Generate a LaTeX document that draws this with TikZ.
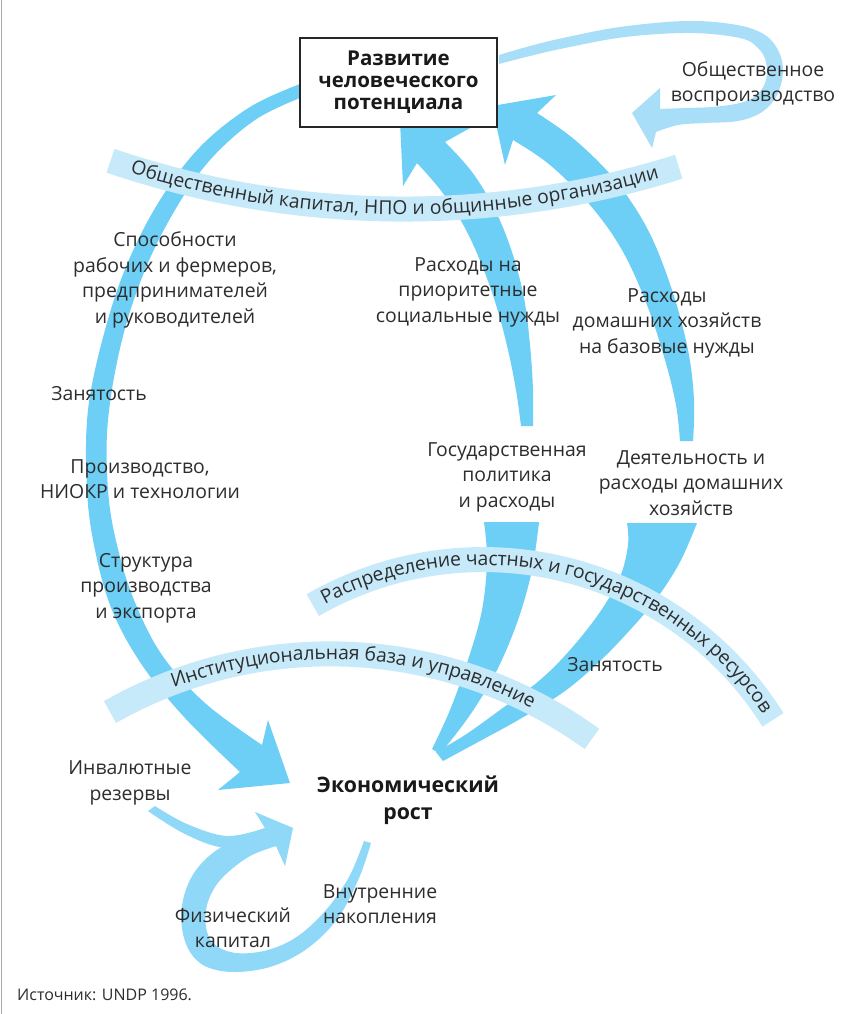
\documentclass[tikz,border=0pt]{standalone}
\usepackage{fontspec}
\setmainfont{Open Sans}
\usetikzlibrary{decorations.text}
\definecolor{mainc}{RGB}{109,207,246}
\definecolor{bandc}{RGB}{199,234,250}
\definecolor{loopt}{RGB}{168,222,248}
\definecolor{loopb}{RGB}{143,216,248}
\definecolor{txtc}{RGB}{45,45,45}
\definecolor{edgec}{RGB}{170,170,170}
\newcommand\bandfnt{\fontsize{19.3}{19.3}\selectfont}
\begin{document}
\begin{tikzpicture}[x=1pt,y=-1pt,
  lbl/.style={font=\fontsize{19.4}{25.5}\selectfont, text=txtc, align=center, inner sep=0pt},
  boldlbl/.style={font=\fontsize{20.5}{22}\selectfont\bfseries, text=black!90, align=center, inner sep=0pt},
  band/.style={draw=bandc, line width=25pt},
  smoothp/.style={smooth, tension=0.6}]
\useasboundingbox (0,0) rectangle (841,1014);
\fill[white] (0,0) rectangle (841,1014);
\draw[edgec, line width=1.5pt] (1.5,0) -- (1.5,1014);

% ---- big left arc: human development -> growth
\fill[mainc] plot[smoothp] coordinates {(300,84) (250,107) (200,147) (160,200) (128,262) (105,330) (88,410) (87,490) (95,550) (112,610) (142,665) (185,718) (240,772)}
  -- (218,790) -- (290,783) -- (268,720)
  -- plot[smoothp] coordinates {(262,745) (205,703) (162,655) (134,600) (117,545) (108,490) (108,420) (122,340) (145,270) (175,210) (210,160) (255,120) (300,98)} -- cycle;

% ---- state policy -> human development
\fill[mainc] plot[smoothp] coordinates {(521,426) (516,390) (508,350) (497,308) (483,268) (465,228) (442,192) (417,163)}
  -- (403,186) -- (400,121) -- (470,128)
  -- plot[smoothp] coordinates {(445,142) (472,172) (495,210) (512,252) (524,298) (530,345) (533,390) (533,426)} -- cycle;

% ---- household activity -> human development
\fill[mainc] plot[smoothp] coordinates {(680,441) (676,405) (665,360) (647,305) (622,250) (590,205) (550,165) (513,140)}
  -- (505,165) -- (492,106) -- (556,95)
  -- plot[smoothp] coordinates {(537,113) (575,140) (615,180) (648,230) (672,290) (688,350) (694,400) (693,441)} -- cycle;

% ---- growth -> state policy
\fill[mainc] plot[smoothp] coordinates {(484,522) (487,560) (482,610) (468,660) (450,710) (432,749)}
  -- plot[smoothp] coordinates {(440,754) (470,715) (497,670) (518,620) (532,570) (539,522)} -- cycle;

% ---- growth -> household activity
\fill[mainc] plot[smoothp] coordinates {(627,523) (628,545) (620,577) (600,612) (570,650) (540,680) (500,710) (465,735) (436,752)}
  -- plot[smoothp] coordinates {(443,761) (480,741) (520,719) (565,691) (600,661) (630,630) (657,598) (680,562) (697,523)} -- cycle;

% ---- top loop (social reproduction)
\fill[loopt] plot[smoothp] coordinates {(499,55) (530,46) (563,38) (620,27) (687,21) (737,25) (765,35) (779,52) (783,72) (777,95) (762,112) (738,121) (705,123) (678,125) (656,132)}
  -- (652,148) -- (632,113) -- (660,88)
  -- plot[smoothp] coordinates {(660,109) (685,108) (712,107) (740,103) (757,95) (766,80) (766,62) (758,48) (740,38) (690,33) (625,37) (565,48) (530,56) (499,64)} -- cycle;

% ---- bottom loop (physical capital)
\fill[loopb] plot[smoothp] coordinates {(371,843) (359,878) (338,918) (308,948) (273,966) (236,972) (207,967) (190,952) (182,928) (183,900) (194,873) (214,852) (240,838) (265,828)}
  -- (255,812) -- (293,828) -- (285,866)
  -- plot[smoothp] coordinates {(276,846) (252,855) (233,868) (217,884) (207,905) (206,927) (214,944) (236,953) (268,950) (298,936) (326,910) (349,877) (364,841)} -- cycle;
% ---- reserves stream
\fill[loopb] plot[smoothp] coordinates {(148,811) (185,834) (225,848) (276,846)}
  -- plot[smoothp] coordinates {(265,828) (227,836) (187,824) (155,806)} -- cycle;

% ---- bands
\draw[band, postaction={decorate, decoration={text along path, text align=center, raise=-5.5pt, text color=txtc,
  text={|\bandfnt|Общественный капитал{,} НПО и общинные организации}}}]
  (110.5,160.8) arc[start angle=108.7, end angle=72.5, radius=914.6];
\draw[band, postaction={decorate, decoration={text along path, text align=center, raise=-5.5pt, text color=txtc,
  text={|\bandfnt|Распределение частных и государственных ресурсов}}}]
  (312.8,605.1) arc[start angle=-119.9, end angle=-32.1, radius=342];
\draw[band, postaction={decorate, decoration={text along path, text align=center, raise=-5.5pt, text color=txtc,
  text={|\bandfnt|Институциональная база и управление}}}]
  (110.0,712.0) arc[start angle=-119.6, end angle=-54.0, radius=445.5];

% ---- box
\node[draw=black!85, line width=1.3pt, fill=white, minimum width=197pt, minimum height=89pt, boldlbl] (hd) at (398.5,82.5)
  {Развитие\\человеческого\\потенциала};
\node[boldlbl, font=\fontsize{21.3}{27}\selectfont\bfseries] (eg) at (408,800) {Экономический\\рост};

% ---- labels
\node[lbl] (l1) at (753,84) {Общественное\\воспроизводство};
\node[lbl] (l2) at (175,280) {Способности\\рабочих и фермеров,\\предпринимателей\\и руководителей};
\node[lbl] (l3) at (99,394) {Занятость};
\node[lbl] (l4) at (140,479) {Производство,\\НИОКР и технологии};
\node[lbl] (l5) at (146,588) {Структура\\производства\\и экспорта};
\node[lbl] (l6) at (468,292) {Расходы на\\приоритетные\\социальные нужды};
\node[lbl] (l7) at (667,323) {Расходы\\домашних хозяйств\\на базовые нужды};
\node[lbl] (l8) at (507,477) {Государственная\\политика\\и расходы};
\node[lbl] (l9) at (691,483) {Деятельность и\\расходы домашних\\хозяйств};
\node[lbl] (l10) at (615,665) {Занятость};
\node[lbl] (l11) at (130,783) {Инвалютные\\резервы};
\node[lbl] (l12) at (233,928) {Физический\\капитал};
\node[lbl] (l13) at (380,904) {Внутренние\\накопления};
\node[lbl, font=\fontsize{16}{18}\selectfont, anchor=west] (src) at (17,995) {Источник: UNDP 1996.};
\end{tikzpicture}
\end{document}
